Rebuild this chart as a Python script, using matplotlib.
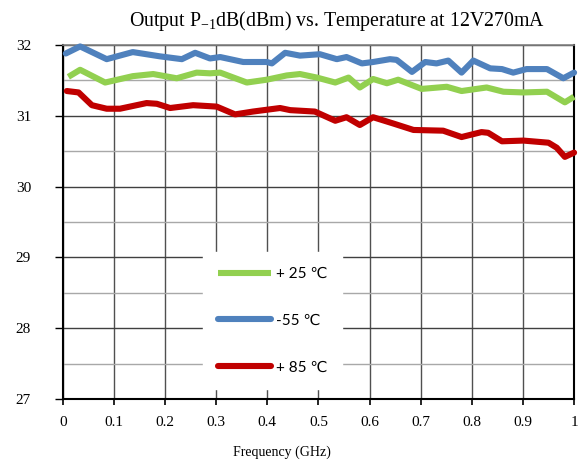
import matplotlib.pyplot as plt
from matplotlib.ticker import MultipleLocator

# -55 C
x_blue = [0.006, 0.034, 0.086, 0.137, 0.190, 0.233, 0.259, 0.288, 0.308, 0.353,
          0.399, 0.409, 0.435, 0.464, 0.503, 0.536, 0.555, 0.585, 0.607, 0.640,
          0.653, 0.683, 0.709, 0.731, 0.754, 0.780, 0.803, 0.836, 0.859, 0.881,
          0.907, 0.947, 0.979, 1.0]
y_blue = [31.88, 31.98, 31.80, 31.90, 31.84, 31.80, 31.89, 31.81, 31.83, 31.76,
          31.76, 31.74, 31.89, 31.85, 31.87, 31.80, 31.83, 31.74, 31.76, 31.80,
          31.79, 31.62, 31.76, 31.74, 31.78, 31.61, 31.78, 31.67, 31.66, 31.61,
          31.66, 31.66, 31.53, 31.61]

# +25 C
x_green = [0.011, 0.034, 0.083, 0.137, 0.177, 0.223, 0.262, 0.288, 0.308, 0.360,
           0.399, 0.438, 0.464, 0.497, 0.533, 0.559, 0.581, 0.607, 0.634, 0.656,
           0.702, 0.751, 0.780, 0.829, 0.862, 0.901, 0.947, 0.982, 1.0]
y_green = [31.55, 31.65, 31.47, 31.56, 31.59, 31.53, 31.61, 31.60, 31.61, 31.47,
           31.51, 31.57, 31.59, 31.54, 31.47, 31.54, 31.40, 31.52, 31.46, 31.51,
           31.38, 31.41, 31.35, 31.40, 31.34, 31.33, 31.34, 31.19, 31.27]

# +85 C
x_red = [0.008, 0.031, 0.057, 0.086, 0.112, 0.164, 0.184, 0.210, 0.255, 0.301,
         0.337, 0.372, 0.425, 0.445, 0.493, 0.533, 0.555, 0.581, 0.607, 0.647,
         0.686, 0.744, 0.780, 0.819, 0.832, 0.859, 0.901, 0.950, 0.966, 0.982, 1.0]
y_red = [31.35, 31.33, 31.15, 31.10, 31.10, 31.18, 31.17, 31.11, 31.15, 31.13,
         31.02, 31.06, 31.11, 31.08, 31.06, 30.93, 30.98, 30.87, 30.98, 30.89,
         30.80, 30.79, 30.70, 30.77, 30.76, 30.64, 30.65, 30.62, 30.55, 30.42, 30.48]

x_ticks = [0, 0.1, 0.2, 0.3, 0.4, 0.5, 0.6, 0.7, 0.8, 0.9, 1]
x_labels = ["0", "0.1", "0.2", "0.3", "0.4", "0.5", "0.6", "0.7", "0.8", "0.9", "1"]
y_ticks = [27, 28, 29, 30, 31, 32]

serif = "Liberation Serif"
sans = ["Lato", "DejaVu Sans"]

fig = plt.figure(figsize=(5.84, 4.63), dpi=100)
ax = fig.add_axes([0.1074, 0.1382, 0.8756, 0.7646])

ax.set_xlim(0, 1)
ax.set_ylim(27, 32)

# grid
ax.set_xticks(x_ticks)
ax.set_yticks(y_ticks)
ax.yaxis.set_minor_locator(MultipleLocator(0.5))
ax.grid(True, which="major", axis="x", color="#505050", linewidth=1.0)
ax.grid(True, which="major", axis="y", color="#404040", linewidth=1.0)
ax.grid(True, which="minor", axis="y", color="#a8a8a8", linewidth=1.0)
ax.set_axisbelow(True)

ax.plot(x_green, y_green, color="#92D050", lw=4.4, solid_joinstyle="round",
        solid_capstyle="butt", clip_on=False, label="+ 25 \u2103", zorder=3)
ax.plot(x_blue, y_blue, color="#4F81BD", lw=4.4, solid_joinstyle="round",
        solid_capstyle="round", clip_on=False, label="-55 \u2103", zorder=3)
ax.plot(x_red, y_red, color="#C00000", lw=4.4, solid_joinstyle="round",
        solid_capstyle="round", clip_on=False, label="+ 85 \u2103", zorder=3)

for side in ["left", "bottom", "right"]:
    ax.spines[side].set_color("black")
    ax.spines[side].set_linewidth(1.5)
ax.spines["top"].set_color("#808080")
ax.spines["top"].set_linewidth(1.2)

ax.set_xticklabels(x_labels, fontfamily=serif, fontsize=11)
ax.set_yticklabels([str(v) for v in y_ticks], fontfamily=serif, fontsize=11)
ax.tick_params(axis="x", which="major", direction="out", length=4.5, width=1.2, pad=8)
ax.tick_params(axis="y", which="major", direction="out", length=5.8, width=1.0, pad=17)
ax.tick_params(axis="y", which="minor", length=0)

leg = ax.legend(loc="upper left", bbox_to_anchor=(0.275, 0.414),
                prop={"family": sans, "size": 11}, frameon=True, fancybox=False,
                handlelength=3.5, handletextpad=0.3, labelspacing=2.15,
                borderpad=0.95, borderaxespad=0)
leg.get_frame().set_facecolor("white")
leg.get_frame().set_edgecolor("white")
leg.get_frame().set_alpha(1)

fig.text(0.577, 0.955, "Output P$_{\\mathregular{-1}}$dB(dBm) vs. Temperature at 12V270mA",
         ha="center", va="center", fontfamily=serif, fontsize=14.3)
fig.text(0.482, 0.024, "Frequency (GHz)", ha="center", va="center",
         fontfamily=serif, fontsize=10)

fig.savefig("out.png", dpi=100)
